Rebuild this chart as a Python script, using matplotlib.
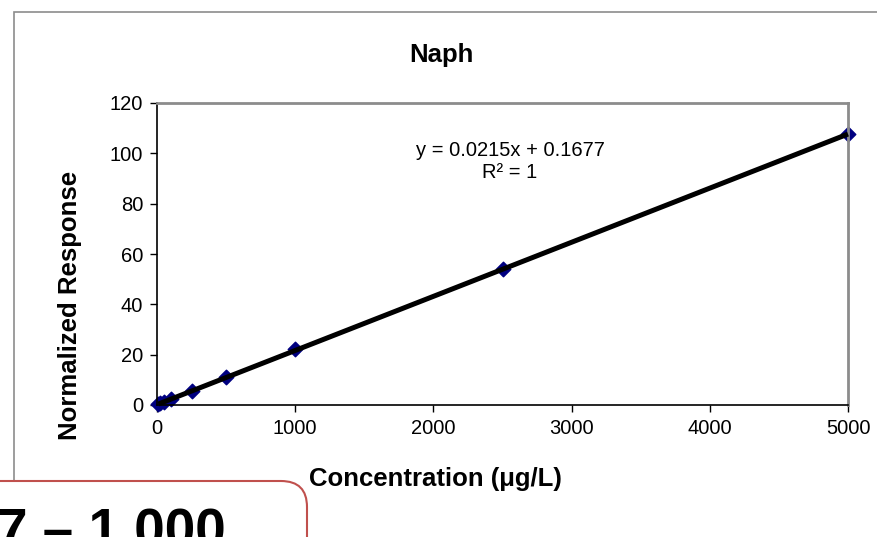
import matplotlib.pyplot as plt
import numpy as np
from matplotlib.patches import FancyBboxPatch, Rectangle

plt.rcParams["font.family"] = ["Liberation Sans", "DejaVu Sans"]

# Calibration data for Naph
conc = [10, 25, 50, 100, 250, 500, 1000, 2500, 5000]
response = [0.4, 0.7, 1.3, 2.4, 5.6, 11.0, 22.1, 54.2, 107.8]
slope = 0.0215
intercept = 0.1677
x_ticks = [0, 1000, 2000, 3000, 4000, 5000]
y_ticks = [0, 20, 40, 60, 80, 100, 120]

W, H = 877, 537
fig = plt.figure(figsize=(W / 100, H / 100), dpi=100)

# overlay in pixel coordinates for frame and callout box
bg = fig.add_axes([0, 0, 1, 1], zorder=0)
bg.set_xlim(0, W)
bg.set_ylim(H, 0)
bg.axis("off")
bg.add_patch(Rectangle((14, 12), 1000, 1000, facecolor="white",
                       edgecolor="#8c8c8c", lw=1.2))

ax = fig.add_axes([157 / W, 1 - 405 / H, (848 - 157) / W, (405 - 103) / H], zorder=1)
ax.patch.set_alpha(0)

ax.scatter(conc, response, marker="D", s=55, color="#000080", zorder=2,
           clip_on=False)
fit_x = np.array([conc[0], conc[-1]])
ax.plot(fit_x, slope * fit_x + intercept, color="black", lw=3.6, zorder=3,
        solid_capstyle="butt", clip_on=False)

ax.set_xlim(0, 5000)
ax.set_ylim(0, 120)
ax.set_xticks(x_ticks)
ax.set_yticks(y_ticks)
ax.tick_params(labelsize=14.5, length=5, width=1, direction="out", pad=5)
for side in ["left", "bottom"]:
    ax.spines[side].set_color("black")
    ax.spines[side].set_linewidth(1.2)
for side in ["top", "right"]:
    ax.spines[side].set_color("#8c8c8c")
    ax.spines[side].set_linewidth(2)

ax.text(510, 161, "y = 0.0215x + 0.1677\nR² = 1", transform=bg.transData,
        ha="center", va="center", fontsize=14.5, linespacing=1.2)

fig.text(441 / W, 1 - 55 / H, "Naph", ha="center", va="center",
         fontsize=18.5, fontweight="bold")
fig.text(70 / W, 1 - 305 / H, "Normalized Response", ha="center", va="center",
         rotation=90, fontsize=18.5, fontweight="bold")
fig.text(435 / W, 1 - 479 / H, "Concentration (μg/L)", ha="center", va="center",
         fontsize=18.5, fontweight="bold")

# callout box in lower left, partly off the figure
over = fig.add_axes([0, 0, 1, 1], zorder=5)
over.set_xlim(0, W)
over.set_ylim(H, 0)
over.axis("off")
over.add_patch(FancyBboxPatch((-100, 481), 407, 200,
                              boxstyle="round,pad=0,rounding_size=26",
                              facecolor="white", edgecolor="#c0504d", lw=1.5,
                              clip_on=False))
over.text(-3, 548, "7 – 1,000", ha="left", va="baseline", fontsize=39.5,
          fontweight="bold", clip_on=False)

fig.savefig("out.png", dpi=100)
